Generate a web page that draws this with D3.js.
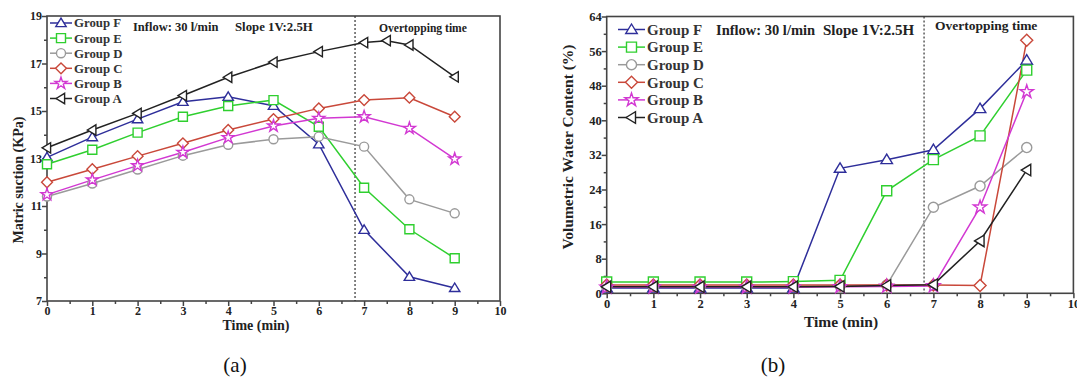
<!DOCTYPE html>
<html>
<head>
<meta charset="utf-8">
<script src="https://cdn.jsdelivr.net/npm/d3@7/dist/d3.min.js"></script>
<style>
    html, body {
        margin: 0;
        padding: 0;
        background: #fff;
    }
    svg text {
        font-family: "Liberation Serif", "Times New Roman", serif;
    }
</style>
</head>
<body>
<div id="chart"></div>
<script>
    const groups = ["Group F", "Group E", "Group D", "Group C", "Group B", "Group A"];
    const colors = ["#2e2e9a", "#2fcf2f", "#9a9a9a", "#c9483a", "#d238d2", "#222222"];
    const symbols = ["triUp", "square", "circle", "diamond", "star", "triLeft"];

    // (a) matric suction, kPa
    const timeA = [0, 1, 2, 3, 4, 5, 6, 7, 8, 9];
    const timeAgroupA = [0, 1, 2, 3, 4, 5, 6, 7, 7.5, 8, 9];
    const suctionF = [13.05, 13.9, 14.66, 15.39, 15.6, 15.22, 13.6, 10.0, 8.02, 7.55];
    const suctionE = [12.76, 13.37, 14.09, 14.76, 15.21, 15.46, 14.34, 11.77, 10.02, 8.8];
    const suctionD = [11.4, 11.95, 12.54, 13.12, 13.58, 13.81, 13.92, 13.5, 11.28, 10.69];
    const suctionC = [12.0, 12.55, 13.1, 13.64, 14.2, 14.66, 15.11, 15.46, 15.56, 14.76];
    const suctionB = [11.48, 12.1, 12.7, 13.26, 13.88, 14.37, 14.69, 14.76, 14.27, 12.98];
    const suctionA = [13.45, 14.2, 14.9, 15.65, 16.42, 17.06, 17.5, 17.88, 17.96, 17.78, 16.44];

    // (b) volumetric water content, %
    const timeB = [0, 1, 2, 3, 4, 5, 6, 7, 8, 9];
    const vwcF = [1.2, 1.2, 1.2, 1.2, 1.2, 28.9, 30.9, 33.2, 42.7, 53.9];
    const vwcE = [2.6, 2.6, 2.6, 2.6, 2.7, 3.0, 23.7, 30.9, 36.4, 51.6];
    const vwcD = [1.6, 1.6, 1.6, 1.6, 1.6, 1.7, 1.9, 19.9, 24.8, 33.7];
    const vwcC = [1.9, 1.9, 1.9, 1.9, 1.9, 1.9, 1.9, 1.9, 1.8, 58.5];
    const vwcB = [1.4, 1.4, 1.4, 1.4, 1.4, 1.5, 1.6, 1.7, 19.9, 46.6];
    const vwcA = [1.5, 1.5, 1.5, 1.5, 1.5, 1.6, 1.8, 2.0, 12.1, 28.5];

    const overtopping = 6.8;

    const svg = d3.select("#chart").append("svg")
        .attr("width", 1077)
        .attr("height", 383);

    function markerPath(kind, s) {
        const h = s / 2;
        if (kind === "triUp") return `M0,${-h * 1.1}L${h * 1.15},${h * 0.8}L${-h * 1.15},${h * 0.8}Z`;
        if (kind === "triLeft") return `M${-h * 1.1},0L${h * 0.8},${-h * 1.15}L${h * 0.8},${h * 1.15}Z`;
        if (kind === "square") return `M${-h},${-h}H${h}V${h}H${-h}Z`;
        if (kind === "diamond") return `M0,${-h * 1.2}L${h * 1.2},0L0,${h * 1.2}L${-h * 1.2},0Z`;
        if (kind === "circle") return d3.symbol(d3.symbolCircle, s * s * 0.8)();
        if (kind === "star") return d3.symbol(d3.symbolStar, s * s * 0.55)();
    }

    function panel(cfg) {
        const g = svg.append("g");
        const x = d3.scaleLinear([0, 10], [cfg.left, cfg.right]);
        const y = d3.scaleLinear(cfg.yDomain, [cfg.bottom, cfg.top]);

        // frame
        g.append("rect")
            .attr("x", cfg.left).attr("y", cfg.top)
            .attr("width", cfg.right - cfg.left).attr("height", cfg.bottom - cfg.top)
            .attr("fill", "none").attr("stroke", "#444").attr("stroke-width", 1.6);

        const xAxis = g.append("g")
            .attr("transform", `translate(0,${cfg.bottom})`)
            .call(d3.axisBottom(x).tickValues(d3.range(0, 10.01, 0.5))
                .tickSize(4).tickFormat(d => Number.isInteger(d) ? d : ""));
        xAxis.selectAll(".tick line").attr("y2", d => Number.isInteger(d) ? 5 : 3);
        const yAxis = g.append("g")
            .attr("transform", `translate(${cfg.left},0)`)
            .call(d3.axisLeft(y).tickValues(cfg.yTicks).tickSize(4)
                .tickFormat(d => cfg.yLabels.includes(d) ? d : ""));
        yAxis.selectAll(".tick line").attr("x2", d => cfg.yLabels.includes(d) ? -5 : -3);
        [xAxis, yAxis].forEach(a => {
            a.select(".domain").remove();
            a.selectAll(".tick line").attr("stroke", "#444").attr("stroke-width", 1.5);
            a.selectAll("text")
                .attr("font-family", "Liberation Serif")
                .attr("font-weight", "bold")
                .attr("font-size", cfg.tickSize)
                .attr("fill", "#222");
        });
        xAxis.selectAll("text").attr("dy", "0.9em").attr("y", 3);
        yAxis.selectAll("text").attr("x", -5);

        // axis titles
        g.append("text")
            .attr("x", cfg.xTitleX).attr("y", cfg.xTitleY)
            .attr("text-anchor", "middle")
            .attr("font-weight", "bold").attr("font-size", cfg.titleSize).attr("fill", "#222")
            .text("Time (min)");
        g.append("text")
            .attr("transform", `translate(${cfg.yTitleX},${cfg.yTitleY}) rotate(-90)`)
            .attr("text-anchor", "middle")
            .attr("font-weight", "bold").attr("font-size", cfg.titleSize).attr("fill", "#222")
            .text(cfg.yTitle);

        // overtopping line
        g.append("line")
            .attr("x1", x(overtopping)).attr("x2", x(overtopping))
            .attr("y1", cfg.top).attr("y2", cfg.bottom)
            .attr("stroke", "#333").attr("stroke-width", 1.2)
            .attr("stroke-dasharray", "2,2");

        // series
        const line = d3.line().x(d => x(d[0])).y(d => y(d[1]));
        cfg.series.forEach((s, i) => {
            const pts = s.t.map((t, j) => [t, s.v[j]]);
            g.append("path")
                .attr("d", line(pts))
                .attr("fill", "none")
                .attr("stroke", colors[i])
                .attr("stroke-width", 1.5);
        });
        cfg.series.forEach((s, i) => {
            const pts = s.t.map((t, j) => [t, s.v[j]]);
            g.selectAll(null).data(pts).join("path")
                .attr("transform", d => `translate(${x(d[0])},${y(d[1])})`)
                .attr("d", markerPath(symbols[i], cfg.markSize))
                .attr("fill", "#fff")
                .attr("stroke", colors[i])
                .attr("stroke-width", 1.4);
        });

        // legend
        groups.forEach((name, i) => {
            const ly = cfg.legY + i * cfg.legStep;
            g.append("line")
                .attr("x1", cfg.legX).attr("x2", cfg.legX + cfg.legLen)
                .attr("y1", ly).attr("y2", ly)
                .attr("stroke", colors[i]).attr("stroke-width", 1.5);
            g.append("path")
                .attr("transform", `translate(${cfg.legX + cfg.legLen / 2},${ly})`)
                .attr("d", markerPath(symbols[i], cfg.markSize))
                .attr("fill", "#fff").attr("stroke", colors[i]).attr("stroke-width", 1.4);
            g.append("text")
                .attr("x", cfg.legX + cfg.legLen + 2).attr("y", ly)
                .attr("dy", "0.35em")
                .attr("font-weight", "bold").attr("font-size", cfg.legFont).attr("fill", "#333")
                .text(name);
        });

        // notes
        cfg.notes.forEach(n => {
            g.append("text")
                .attr("x", n.x).attr("y", n.y)
                .attr("font-weight", "bold").attr("font-size", n.size).attr("fill", "#222")
                .text(n.text);
        });

        g.append("text")
            .attr("x", cfg.capX).attr("y", 372)
            .attr("text-anchor", "middle")
            .attr("font-size", 21).attr("fill", "#111")
            .text(cfg.caption);
    }

    panel({
        left: 47, right: 500, top: 16, bottom: 301,
        yDomain: [7, 19],
        yTicks: d3.range(7, 19.01, 1),
        yLabels: [7, 9, 11, 13, 15, 17, 19],
        yTitle: "Matric suction (KPa)",
        yTitleX: 23, yTitleY: 180, xTitleX: 256, xTitleY: 330,
        tickSize: 12, titleSize: 14,
        markSize: 9,
        series: [
            {t: timeA, v: suctionF},
            {t: timeA, v: suctionE},
            {t: timeA, v: suctionD},
            {t: timeA, v: suctionC},
            {t: timeA, v: suctionB},
            {t: timeAgroupA, v: suctionA}
        ],
        legX: 50, legY: 23, legStep: 15.1, legLen: 22, legFont: 12.8,
        notes: [
            {x: 133, y: 31, size: 12.5, text: "Inflow: 30 l/min"},
            {x: 235, y: 31, size: 12.8, text: "Slope 1V:2.5H"},
            {x: 379, y: 32, size: 11.6, text: "Overtopping time"}
        ],
        capX: 235, caption: "(a)"
    });

    panel({
        left: 606.7, right: 1073.4, top: 16.5, bottom: 293.3,
        yDomain: [0, 64],
        yTicks: d3.range(0, 64.01, 4),
        yLabels: [0, 8, 16, 24, 32, 40, 48, 56, 64],
        yTitle: "Volumetric Water Content (%)",
        yTitleX: 573, yTitleY: 147, xTitleX: 841, xTitleY: 327,
        tickSize: 12.5, titleSize: 15.5,
        markSize: 10,
        series: [
            {t: timeB, v: vwcF},
            {t: timeB, v: vwcE},
            {t: timeB, v: vwcD},
            {t: timeB, v: vwcC},
            {t: timeB, v: vwcB},
            {t: timeB, v: vwcA}
        ],
        legX: 618, legY: 29.5, legStep: 17.6, legLen: 27, legFont: 15,
        notes: [
            {x: 716, y: 35, size: 14.5, text: "Inflow: 30 l/min"},
            {x: 823, y: 35, size: 15, text: "Slope 1V:2.5H"},
            {x: 935, y: 30, size: 13.5, text: "Overtopping time"}
        ],
        capX: 773, caption: "(b)"
    });
</script>
</body>
</html>
